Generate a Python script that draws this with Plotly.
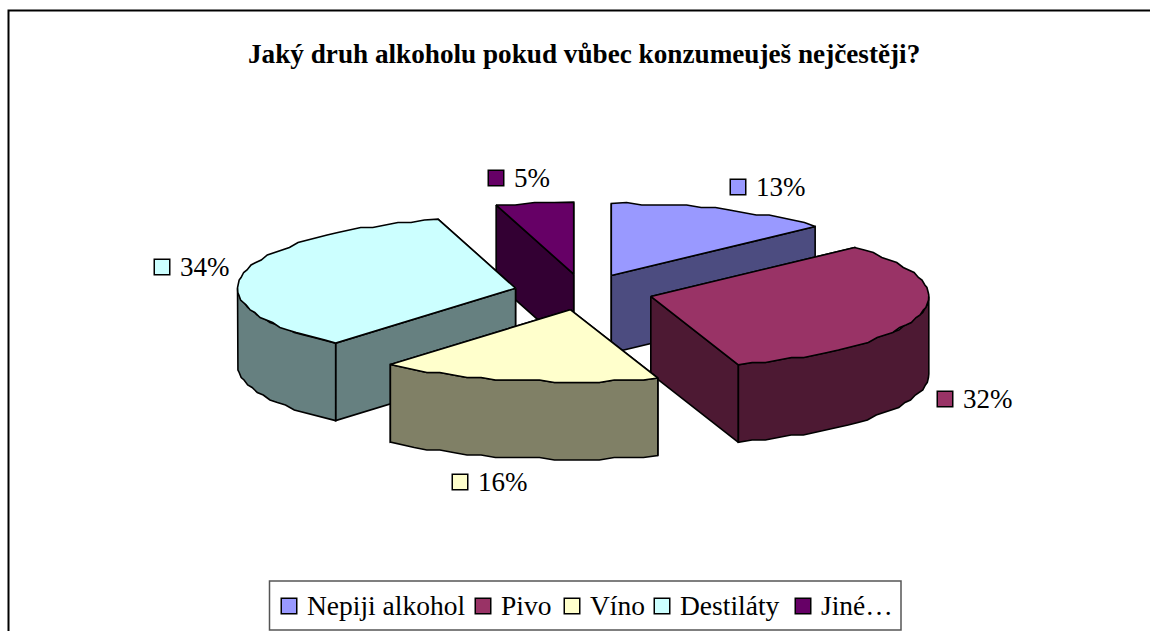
import numpy as np
import plotly.graph_objects as go

categories = ["Nepiji alkohol", "Pivo", "Víno", "Destiláty", "Jiné…"]
values = [13.1, 31.8, 16.3, 34.3, 4.5]
top_colors = ["#9999FF", "#993366", "#FFFFCC", "#CCFFFF", "#660066"]
side_colors = ["#4C4C80", "#4D1933", "#808066", "#668080", "#330033"]
title_text = "Jaký druh alkoholu pokud vůbec konzumeuješ nejčestěji?"

# layout constants (pixels), not data
label_anchor_x = [738, 945, 460, 162, 496]
label_anchor_y = [187, 399, 482, 267, 178]
legend_key_x = [289, 483, 572, 662, 803]
draw_order = [4, 0, 3, 1, 2]
CX, CY, A, B, DEPTH, PULL = 583.5, 292, 278, 72, 77.5, 0.25
FONT = "Liberation Serif"
STEP = 2.5
TEXT_GAP, TEXT_DROP = 18, 2.5
LEGEND_Y = 606

fig = go.Figure()


def poly(xs, ys, color):
    xs, ys = list(xs), list(ys)
    fig.add_trace(go.Scatter(
        x=xs + [xs[0]], y=ys + [ys[0]], mode="lines", fill="toself",
        fillcolor=color, line=dict(color="black", width=1.6, shape="linear"),
        hoverinfo="skip", showlegend=False))


total = sum(values)
edges = np.cumsum([0] + values) / total * 2 * np.pi

for i in draw_order:
    a0, a1 = edges[i], edges[i + 1]
    mid = (a0 + a1) / 2
    ax = CX + PULL * A * np.sin(mid)
    ay = CY - PULL * B * np.cos(mid)
    px = lambda t: ax + A * np.sin(t)

    def py(t):
        return ay - B * np.cos(t)

    def qy(t):
        y = py(t)
        q = np.round(y / STEP) * STEP
        q[0], q[-1] = y[0], y[-1]
        return q

    for t in sorted([a0, a1], key=py):
        poly([ax, px(t), px(t), ax], [ay, py(t), py(t) + DEPTH, ay + DEPTH], side_colors[i])
    r0, r1 = max(a0, np.pi / 2), min(a1, 3 * np.pi / 2)
    if r1 > r0:
        ts = np.linspace(r0, r1, max(int((r1 - r0) / 0.05), 4))
        yq = qy(ts)
        poly(list(px(ts)) + list(px(ts[::-1])),
             list(yq) + list(yq[::-1] + DEPTH), side_colors[i])
    ts = np.linspace(a0, a1, max(int((a1 - a0) / 0.05), 4))
    poly([ax] + list(px(ts)), [ay] + list(qy(ts)), top_colors[i])

key_marker = dict(symbol="square", size=15.5, color=top_colors, line=dict(color="black", width=1.5))

# data labels
fig.add_trace(go.Scatter(x=label_anchor_x, y=label_anchor_y, mode="markers", marker=key_marker,
                         hoverinfo="skip", showlegend=False))
fig.add_trace(go.Scatter(
    x=[x + TEXT_GAP for x in label_anchor_x], y=[y + TEXT_DROP for y in label_anchor_y], mode="text",
    text=[f"{int(v + 0.5)}%" for v in values], textposition="middle right",
    textfont=dict(family=FONT, size=27, color="black"), hoverinfo="skip", showlegend=False))

# legend
fig.add_trace(go.Scatter(x=legend_key_x, y=[LEGEND_Y] * 5, mode="markers", marker=key_marker,
                         hoverinfo="skip", showlegend=False))
fig.add_trace(go.Scatter(
    x=[x + TEXT_GAP for x in legend_key_x], y=[LEGEND_Y + TEXT_DROP] * 5, mode="text",
    text=categories, textposition="middle right",
    textfont=dict(family=FONT, size=27.5, color="black"), hoverinfo="skip", showlegend=False))

fig.update_layout(
    width=1150, height=631, autosize=False, showlegend=False,
    margin=dict(l=0, r=0, t=0, b=0),
    paper_bgcolor="white", plot_bgcolor="white",
    font=dict(family=FONT, color="black"),
    xaxis=dict(range=[0, 1150], visible=False, fixedrange=True),
    yaxis=dict(range=[631, 0], visible=False, fixedrange=True),
    shapes=[
        dict(type="rect", xref="x", yref="y", x0=8.5, y0=10.5, x1=1170, y1=650,
             line=dict(color="black", width=2), layer="below"),
        dict(type="rect", xref="x", yref="y", x0=269.5, y0=581, x1=901, y1=630,
             line=dict(color="#555555", width=1.5), fillcolor="white", layer="below"),
    ],
    annotations=[dict(text=f"<b>{title_text}</b>", x=583.5, y=54, xref="x", yref="y",
                      showarrow=False, font=dict(family=FONT, size=27.2, color="black"))],
)
fig.write_html("out.html", config={"displayModeBar": False},
               post_script="document.body.style.margin='0';document.body.style.overflow='hidden';")
